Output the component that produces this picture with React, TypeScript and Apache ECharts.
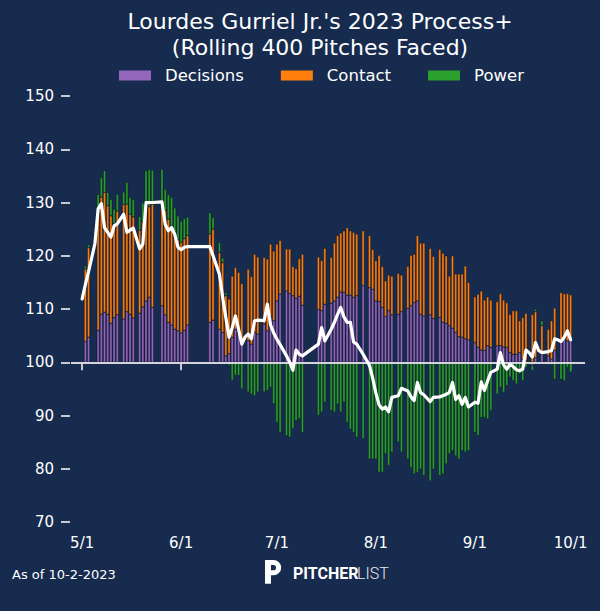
import * as echarts from "echarts";
import { useEffect, useRef } from "react";

// game days (bars): component contributions relative to 100
const gameDates = [
  "5/2", "5/3", "5/6", "5/7", "5/8", "5/9", "5/10", "5/11", "5/12", "5/14",
  "5/15", "5/16", "5/17", "5/19", "5/20", "5/21", "5/22", "5/23", "5/26", "5/27",
  "5/28", "5/29", "5/30", "5/31", "6/1", "6/2", "6/3", "6/10", "6/11", "6/13",
  "6/14", "6/15", "6/16", "6/17", "6/18", "6/19", "6/20", "6/22", "6/23", "6/24",
  "6/25", "6/27", "6/28", "6/29", "6/30", "7/1", "7/2", "7/4", "7/5", "7/6",
  "7/7", "7/8", "7/9", "7/14", "7/15", "7/16", "7/18", "7/19", "7/20", "7/21",
  "7/22", "7/23", "7/24", "7/25", "7/26", "7/28", "7/30", "7/31", "8/1", "8/2",
  "8/3", "8/4", "8/5", "8/6", "8/8", "8/9", "8/11", "8/12", "8/13", "8/14",
  "8/15", "8/16", "8/18", "8/19", "8/21", "8/22", "8/23", "8/24", "8/25", "8/26",
  "8/27", "8/28", "8/29", "8/30", "9/1", "9/2", "9/3", "9/4", "9/5", "9/6",
  "9/8", "9/9", "9/10", "9/11", "9/12", "9/13", "9/14", "9/15", "9/16", "9/17",
  "9/19", "9/20", "9/22", "9/24", "9/25", "9/26", "9/28", "9/29", "9/30", "10/1",
];

const decisions = [
  3.9, 4.7, 6.0, 9.0, 9.4, 9.0, 7.3, 8.4, 8.9, 8.1,
  9.5, 9.0, 8.3, 9.2, 10.4, 11.5, 12.2, 10.3, 10.6, 8.9,
  7.5, 7.0, 6.2, 5.9, 5.5, 6.0, 7.0, 7.5, 7.9, 6.2,
  5.6, 1.2, 1.6, 4.7, 6.2, 5.6, 3.4, 4.0, 3.4, 5.6,
  5.3, 7.2, 5.9, 8.7, 7.8, 11.5, 12.8, 13.4, 12.9, 12.5,
  12.0, 12.4, 10.7, 9.9, 9.7, 10.9, 11.1, 11.5, 12.2, 13.2,
  13.1, 12.6, 12.6, 12.2, 12.5, 14.4, 14.0, 13.7, 11.5, 11.4,
  10.3, 8.6, 9.7, 8.9, 9.0, 9.5, 10.1, 10.6, 11.2, 11.5,
  9.0, 8.7, 8.9, 8.2, 8.4, 7.5, 7.3, 6.9, 6.4, 5.6,
  4.8, 4.7, 4.4, 4.2, 3.7, 2.8, 2.3, 2.2, 3.1, 2.8,
  3.1, 3.1, 2.9, 2.8, 1.8, 1.5, 1.5, 1.8, 0.6, 0.3,
  -0.6, 0.8, 1.5, 1.2, 0.6, 2.2, 4.3, 4.7, 4.0, 4.0,
];

const contact = [
  13.6, 16.8, 22.5, 22.0, 22.5, 20.4, 20.2, 17.6, 19.5, 21.5,
  20.2, 18.8, 19.0, 15.6, 16.0, 18.0, 17.0, 19.4, 19.7, 19.6,
  19.4, 18.6, 17.8, 17.1, 17.0, 17.2, 16.8, 16.6, 17.1, 14.4,
  13.1, 11.3, 10.3, 11.5, 11.6, 11.3, 11.4, 13.5, 12.7, 14.7,
  14.5, 12.5, 13.5, 13.5, 13.1, 10.7, 10.1, 7.9, 8.4, 5.5,
  5.6, 7.1, 9.6, 9.9, 9.4, 10.5, 8.6, 10.9, 11.6, 11.1,
  11.6, 12.7, 12.1, 12.2, 11.6, 10.3, 9.8, 7.5, 7.6, 8.7,
  7.7, 6.7, 6.7, 7.3, 7.7, 6.9, 7.9, 9.5, 9.1, 12.3,
  13.4, 13.7, 12.5, 11.7, 12.8, 13.0, 12.7, 9.3, 13.6, 11.0,
  11.8, 11.9, 13.7, 10.8, 8.6, 10.0, 11.1, 9.5, 9.2, 8.9,
  8.3, 9.8, 8.8, 8.4, 7.2, 8.2, 8.2, 6.0, 7.8, 8.9,
  9.0, 8.7, 5.4, 5.0, 7.2, 8.0, 8.8, 8.2, 8.9, 8.7,
];

const power = [
  0.6, 0.6, 3.0, 3.7, 4.1, 2.5, 3.1, 2.8, 3.2, 2.4,
  4.1, 3.2, 3.3, 2.6, 3.5, 6.5, 7.0, 6.4, 6.0, 4.0,
  4.6, 5.4, 5.0, 4.5, 4.0, 3.8, 3.5, 4.0, 2.2, 1.9,
  0.9, 0.6, -0.6, -3.4, -2.5, -2.5, -5.0, -5.6, -6.0, -6.3,
  -5.6, -5.6, -5.3, -4.7, -7.8, -11.3, -13.2, -13.8, -14.1, -12.5,
  -11.0, -10.6, -13.2, -10.0, -9.4, -7.5, -9.1, -9.4, -7.9, -9.4,
  -7.5, -11.3, -12.6, -13.2, -14.1, -14.4, -18.2, -18.2, -18.2, -20.7,
  -20.7, -17.2, -19.4, -16.9, -15.0, -16.9, -18.2, -19.8, -21.0, -20.7,
  -20.1, -21.3, -22.3, -20.1, -21.3, -21.0, -19.1, -17.2, -16.6, -17.6,
  -18.2, -16.6, -16.9, -16.6, -13.2, -13.8, -10.4, -10.4, -10.7, -9.1,
  -6.0, -4.7, -5.7, -4.4, -2.8, -3.5, -4.1, -2.2, -3.5, -1.0,
  -1.0, 0.5, 0.9, -0.5, -0.5, -3.2, -3.2, -3.5, -1.0, -1.9,
];

// rolling Process+ (white line)
const lineDates = [
  "5/1", "5/2", "5/3", "5/5", "5/6", "5/7", "5/8", "5/9", "5/10", "5/11",
  "5/12", "5/14", "5/15", "5/16", "5/17", "5/19", "5/20", "5/21", "5/22", "5/23",
  "5/26", "5/27", "5/28", "5/29", "5/30", "5/31", "6/1", "6/2", "6/3", "6/10",
  "6/11", "6/13", "6/14", "6/15", "6/16", "6/17", "6/18", "6/19", "6/20", "6/21",
  "6/22", "6/23", "6/24", "6/25", "6/27", "6/28", "6/29", "6/30", "7/1", "7/2",
  "7/4", "7/5", "7/6", "7/7", "7/8", "7/9", "7/14", "7/15", "7/16", "7/18",
  "7/19", "7/20", "7/21", "7/22", "7/23", "7/24", "7/25", "7/26", "7/28", "7/30",
  "7/31", "8/1", "8/2", "8/3", "8/4", "8/5", "8/6", "8/8", "8/9", "8/11",
  "8/12", "8/13", "8/14", "8/15", "8/16", "8/18", "8/19", "8/21", "8/22", "8/23",
  "8/24", "8/25", "8/26", "8/27", "8/28", "8/29", "8/30", "9/1", "9/2", "9/3",
  "9/4", "9/5", "9/6", "9/8", "9/9", "9/10", "9/11", "9/12", "9/13", "9/14",
  "9/15", "9/16", "9/17", "9/18", "9/19", "9/20", "9/21", "9/22", "9/24", "9/25",
  "9/26", "9/27", "9/28", "9/29", "9/30", "10/1",
];

const processPlus = [
  111.9, 114.6, 117.0, 122.3, 128.8, 129.8, 125.3, 124.4, 123.5, 125.6,
  126.0, 127.8, 124.4, 124.8, 125.2, 121.3, 122.2, 130.0, 130.0, 130.0,
  130.1, 125.9, 124.7, 125.3, 124.0, 121.6, 121.1, 121.6, 121.7, 121.7,
  120.0, 116.5, 112.2, 108.4, 104.7, 106.5, 108.7, 106.2, 103.4, 104.7,
  105.3, 104.4, 107.8, 107.9, 107.8, 110.9, 107.0, 105.5, 104.3, 103.3,
  101.2, 100.0, 98.5, 102.3, 101.5, 101.2, 103.4, 106.5, 104.0, 106.2,
  107.5, 109.0, 110.3, 108.5, 107.5, 107.5, 103.8, 103.4, 101.5, 99.4,
  97.0, 94.2, 92.0, 91.2, 91.6, 90.7, 93.4, 93.7, 95.1, 94.6,
  93.5, 92.8, 96.2, 94.3, 93.9, 92.6, 93.4, 93.5, 93.7, 94.0,
  94.3, 96.2, 93.0, 93.7, 92.1, 93.4, 91.6, 92.5, 92.3, 96.3,
  94.7, 96.5, 98.1, 98.7, 101.8, 99.5, 98.7, 99.6, 99.2, 98.6,
  98.4, 98.7, 102.3, 101.8, 101.0, 103.7, 102.2, 101.8, 102.0, 102.2,
  104.4, 104.2, 103.9, 104.7, 105.9, 104.2,
];

const yTicks = [70, 80, 90, 100, 110, 120, 130, 140, 150];

const BG = "#162b4e";
const FONT = "DejaVu Sans";

// one category per calendar day, a few days of padding on each side
const buildDays = (start: Date, count: number) => {
  const out: string[] = [];
  for (let i = 0; i < count; i++) {
    const d = new Date(start.getTime() + i * 86400000);
    out.push(`${d.getUTCMonth() + 1}/${d.getUTCDate()}`);
  }
  return out;
};
const days = buildDays(new Date(Date.UTC(2023, 3, 28)), 161);

const onDays = (dates: string[], values: number[], offset = 0) => {
  const m = new Map<string, number>();
  dates.forEach((d, i) => m.set(d, values[i] - offset));
  return days.map((d) => (m.has(d) ? m.get(d)! : null));
};

const isMonthStart = (_i: number, v: string) => v.split("/")[1] === "1";

echarts.graphic.registerShape(
  "pl-logo",
  echarts.graphic.extendPath(
    "M0 0 H10 A9 9 0 0 1 10 18 H7 V28 H0 Z M7 6 V12 H10 A3 3 0 0 0 10 6 Z",
    {}
  ) as any
);

const Chart = () => {
  const chartRef = useRef<HTMLDivElement>(null);

  useEffect(() => {
    document.body.style.margin = "0";
    document.body.style.background = BG;
    const chart = echarts.init(chartRef.current, null, { renderer: "svg" });

    const barStyle = (color: string) => ({
      color,
      borderColor: "rgba(8,14,28,0.75)",
      borderWidth: 0.5,
    });

    const options = {
      animation: false,
      backgroundColor: BG,
      grid: { left: 71, right: 15, top: 96, bottom: 89 },
      legend: {
        data: ["Decisions", "Contact", "Power"],
        left: 114,
        top: 62,
        icon: "rect",
        itemWidth: 32,
        itemHeight: 10,
        itemGap: 37,
        itemStyle: { borderWidth: 0 },
        textStyle: { color: "#ffffff", fontSize: 16.5, fontFamily: FONT, padding: [0, 0, 0, 9] },
        selectedMode: false,
      },
      xAxis: {
        type: "category",
        data: days,
        offset: 1,
        axisLine: { show: false },
        axisTick: {
          show: true,
          alignWithLabel: true,
          interval: isMonthStart,
          length: 8,
          lineStyle: { color: "#ffffff", width: 1.5 },
        },
        axisLabel: {
          interval: isMonthStart,
          color: "#ffffff",
          fontSize: 15,
          fontFamily: FONT,
          margin: 12,
        },
        splitLine: { show: false },
      },
      yAxis: {
        type: "value",
        min: yTicks[0] - 100,
        max: yTicks[yTicks.length - 1] - 100,
        interval: 10,
        offset: 1,
        axisLine: { show: false },
        axisTick: { show: true, length: 9, lineStyle: { color: "#ffffff", width: 1.5 } },
        axisLabel: {
          color: "#ffffff",
          fontSize: 15,
          fontFamily: FONT,
          margin: 16,
          formatter: (v: number) => String(v + 100),
        },
        splitLine: { show: false },
      },
      series: [
        {
          name: "Decisions",
          type: "bar",
          stack: "parts",
          barWidth: 2.6,
          data: onDays(gameDates, decisions),
          itemStyle: barStyle("#9467bd"),
          emphasis: { disabled: true },
          silent: true,
        },
        {
          name: "Contact",
          type: "bar",
          stack: "parts",
          barWidth: 2.6,
          data: onDays(gameDates, contact),
          itemStyle: barStyle("#ff7f0e"),
          emphasis: { disabled: true },
          silent: true,
        },
        {
          name: "Power",
          type: "bar",
          stack: "parts",
          barWidth: 2.6,
          data: onDays(gameDates, power),
          itemStyle: barStyle("#2ca02c"),
          emphasis: { disabled: true },
          silent: true,
          markLine: {
            silent: true,
            symbol: ["none", "none"],
            label: { show: false },
            lineStyle: { color: "#d4d4dc", width: 2, type: "solid" },
            data: [{ yAxis: 0 }],
          },
        },
        {
          name: "Process+",
          type: "line",
          data: onDays(lineDates, processPlus, 100),
          connectNulls: true,
          symbol: "none",
          showSymbol: false,
          lineStyle: { color: "#ffffff", width: 3.2, join: "round", cap: "round" },
          z: 10,
          silent: true,
        },
      ],
      graphic: [
        {
          type: "text",
          x: 320,
          y: 21,
          style: {
            text: "Lourdes Gurriel Jr.'s 2023 Process+",
            fill: "#ffffff",
            fontSize: 22,
            fontFamily: FONT,
            align: "center",
            verticalAlign: "middle",
          },
        },
        {
          type: "text",
          x: 320,
          y: 47,
          style: {
            text: "(Rolling 400 Pitches Faced)",
            fill: "#ffffff",
            fontSize: 22,
            fontFamily: FONT,
            align: "center",
            verticalAlign: "middle",
          },
        },
        {
          type: "text",
          x: 12,
          y: 574,
          style: {
            text: "As of 10-2-2023",
            fill: "#ffffff",
            fontSize: 13,
            fontFamily: FONT,
            align: "left",
            verticalAlign: "middle",
          },
        },
        {
          type: "pl-logo",
          x: 265,
          y: 560,
          scaleX: 0.85,
          scaleY: 0.85,
          style: { fill: "#ffffff" },
        },
        {
          type: "text",
          x: 293,
          y: 573,
          style: {
            text: "PITCHER",
            fill: "#ffffff",
            fontSize: 16,
            fontWeight: "bold",
            fontFamily: "Roboto",
            align: "left",
            verticalAlign: "middle",
          },
        },
        {
          type: "text",
          x: 357,
          y: 573,
          style: {
            text: "LIST",
            fill: "#e6e8ee",
            fontSize: 16,
            fontWeight: 300,
            fontFamily: "Roboto",
            align: "left",
            verticalAlign: "middle",
          },
        },
      ],
    };

    chart.setOption(options as any);

    return () => {
      chart.dispose();
    };
  }, []);

  return <div ref={chartRef} style={{ width: "600px", height: "611px" }} />;
};

export default function App() {
  return <Chart />;
}
